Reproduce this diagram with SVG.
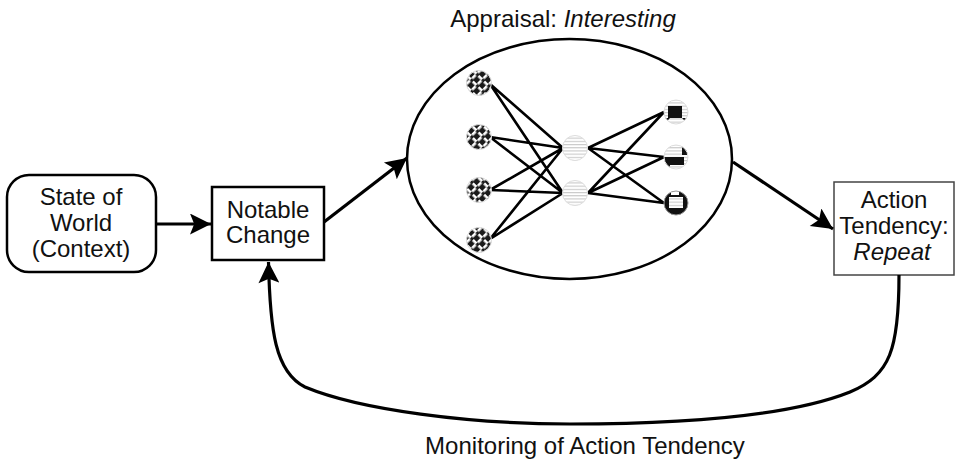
<svg xmlns="http://www.w3.org/2000/svg" width="960" height="460" viewBox="0 0 960 460">
<style>
  .lbl { font-family: "Liberation Sans", Arial, sans-serif; font-size: 24px; fill: #111; text-anchor: middle; }
  .it { font-style: italic; }
  .box { fill: #fff; stroke: #000; stroke-width: 2.5; }
  .conn { fill: none; stroke: #000; stroke-width: 3.2; }
  .net { stroke: #000; stroke-width: 2.6; fill: none; }
</style>
<defs>
  <marker id="ah" viewBox="0 0 10 10" refX="10" refY="5" markerUnits="userSpaceOnUse" markerWidth="26" markerHeight="21" orient="auto">
    <path d="M0,0 L10,5 L0,10 L2,5 Z" fill="#000"/>
  </marker>
  <pattern id="weave" patternUnits="userSpaceOnUse" width="8" height="8" patternTransform="rotate(45)">
    <rect width="8" height="8" fill="#1a1a1a"/>
    <rect x="0" y="2" width="5" height="2.6" fill="#fff"/>
    <rect x="4" y="4.6" width="2.6" height="3.4" fill="#fff"/>
    <rect x="4" y="0" width="2.6" height="1.6" fill="#fff"/>
  </pattern>
  <pattern id="stripes" patternUnits="userSpaceOnUse" width="6" height="3.2">
    <rect width="6" height="3.2" fill="#fff"/>
    <rect y="0" width="6" height="1.1" fill="#c8c8c8"/>
  </pattern>
  <clipPath id="c1"><circle cx="676" cy="112" r="12"/></clipPath>
  <clipPath id="c2"><circle cx="676" cy="157" r="12"/></clipPath>
  <clipPath id="c3"><circle cx="676" cy="203" r="12"/></clipPath>
</defs>

<g id="title">
  <text class="lbl" x="563" y="27">Appraisal: <tspan class="it">Interesting</tspan></text>
</g>

<g id="state">
  <rect class="box" x="7" y="175" width="149" height="97" rx="22"/>
  <text class="lbl" x="81" y="205">State of</text>
  <text class="lbl" x="81" y="231">World</text>
  <text class="lbl" x="81" y="257">(Context)</text>
</g>

<g id="notable">
  <rect class="box" x="212" y="187" width="112" height="73"/>
  <text class="lbl" x="268" y="218">Notable</text>
  <text class="lbl" x="268" y="243">Change</text>
</g>

<g id="action">
  <rect x="834" y="182" width="120" height="93" fill="#fff" stroke="#444" stroke-width="1.5"/>
  <text class="lbl" x="894" y="208">Action</text>
  <text class="lbl" x="894" y="234">Tendency:</text>
  <text class="lbl it" x="892" y="260">Repeat</text>
</g>

<g id="appraisal">
  <ellipse cx="569.5" cy="159" rx="162.5" ry="120" fill="#fff" stroke="#000" stroke-width="2.5"/>
  <g id="weights">
    <path class="net" d="M490,84 L563,148 M490,84 L563,193 M490,137 L563,148 M490,137 L563,193 M490,190 L563,148 M490,190 L563,193 M490,239 L563,148 M490,239 L563,193"/>
    <path class="net" d="M588,148 L664,112 M588,148 L664,157 M588,148 L664,203 M588,193 L664,112 M588,193 L664,157 M588,193 L664,203"/>
  </g>
  <g id="inputs" stroke="#ddd" stroke-width="1">
    <circle cx="479" cy="83" r="12.5" fill="url(#weave)"/>
    <circle cx="479" cy="137" r="12.5" fill="url(#weave)"/>
    <circle cx="479" cy="190" r="12.5" fill="url(#weave)"/>
    <circle cx="479" cy="240" r="12.5" fill="url(#weave)"/>
  </g>
  <g id="hidden" stroke="#ddd" stroke-width="1">
    <circle cx="575" cy="148" r="12.5" fill="url(#stripes)"/>
    <circle cx="575" cy="193" r="12.5" fill="url(#stripes)"/>
  </g>
  <g id="outputs">
    <g clip-path="url(#c1)">
      <rect x="660" y="96" width="32" height="32" fill="url(#stripes)"/>
      <rect x="668" y="106" width="14" height="12" fill="#111"/>
      <path d="M664,118 L670,118 L664,124 Z M688,118 L682,118 L688,124 Z" fill="#111"/>
    </g>
    <circle cx="676" cy="112" r="12" fill="none" stroke="#ddd"/>
    <g clip-path="url(#c2)">
      <rect x="660" y="141" width="32" height="32" fill="url(#stripes)"/>
      <rect x="682" y="145" width="8" height="10" fill="#111"/>
      <rect x="664" y="157" width="20" height="8" fill="#111"/>
      <rect x="664" y="165" width="6" height="5" fill="#111"/>
    </g>
    <circle cx="676" cy="157" r="12" fill="none" stroke="#ddd"/>
    <g clip-path="url(#c3)">
      <rect x="660" y="187" width="32" height="32" fill="#111"/>
      <rect x="669" y="197" width="14" height="11" fill="url(#stripes)"/>
      <rect x="671" y="190" width="8" height="5" fill="#fff"/>
    </g>
    <circle cx="676" cy="203" r="12" fill="none" stroke="#999"/>
  </g>
</g>

<g id="connectors">
  <line class="conn" x1="156" y1="224" x2="211" y2="224" marker-end="url(#ah)"/>
  <line class="conn" x1="324" y1="222" x2="407" y2="158" marker-end="url(#ah)"/>
  <line class="conn" x1="733" y1="162" x2="833" y2="229" marker-end="url(#ah)"/>
  <path class="conn" d="M899,275 C899,350 890,375 850,392 C780,420 660,424 570,424 C470,424 360,410 305,387 C275,372 270,330 268.5,262" marker-end="url(#ah)"/>
  <text class="lbl" x="585" y="454">Monitoring of Action Tendency</text>
</g>
</svg>
